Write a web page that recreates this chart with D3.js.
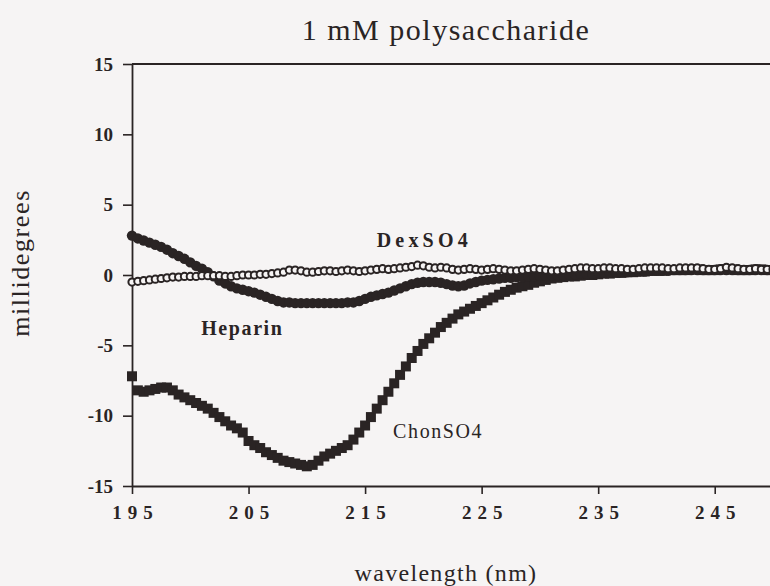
<!DOCTYPE html>
<html>
<head>
<meta charset="utf-8">
<script src="https://cdn.jsdelivr.net/npm/d3@7"></script>
<style>
  html, body { margin: 0; padding: 0; background: #f6f4f4; }
  svg { display: block; }
</style>
</head>
<body>
<svg id="chart" width="770" height="586"></svg>
<script>
// CD spectra sampled every 0.5 nm from 195 to 250 nm (millidegrees)
const wavelengthStart = 195;
const wavelengthStep = 0.5;

const chonSO4 = [
  -7.2, -8.2, -8.3, -8.2, -8.1, -8.0, -8.0, -8.2, -8.5, -8.7,
  -8.9, -9.1, -9.3, -9.5, -9.8, -10.1, -10.4, -10.7, -10.9, -11.2,
  -11.8, -12.1, -12.3, -12.6, -12.8, -13.0, -13.2, -13.3, -13.4, -13.5,
  -13.6, -13.5, -13.2, -12.9, -12.7, -12.5, -12.3, -12.1, -11.7, -11.2,
  -10.7, -10.1, -9.5, -8.9, -8.3, -7.7, -7.1, -6.5, -5.9, -5.4,
  -4.9, -4.5, -4.1, -3.7, -3.4, -3.1, -2.8, -2.6, -2.4, -2.2,
  -2.0, -1.8, -1.6, -1.4, -1.2, -1.05, -0.9, -0.8, -0.7, -0.55,
  -0.45, -0.35, -0.25, -0.2, -0.15, -0.1, -0.1, -0.05, 0.0, 0.0,
  0.05, 0.1, 0.1, 0.15, 0.15, 0.2, 0.2, 0.25, 0.25, 0.3,
  0.3, 0.3, 0.35, 0.35, 0.35, 0.35, 0.4, 0.4, 0.35, 0.35,
  0.35, 0.4, 0.4, 0.4, 0.35, 0.35, 0.35, 0.4, 0.4, 0.35,
  0.35
];

const heparin = [
  2.8, 2.6, 2.45, 2.3, 2.15, 2.0, 1.8, 1.55, 1.35, 1.15,
  0.9, 0.65, 0.45, 0.2, -0.1, -0.4, -0.6, -0.8, -0.95, -1.05,
  -1.15, -1.25, -1.4, -1.55, -1.7, -1.85, -1.95, -1.95, -2.0, -2.0,
  -2.0, -2.0, -2.0, -2.0, -2.0, -2.0, -2.0, -1.95, -1.95, -1.85,
  -1.7, -1.55, -1.45, -1.35, -1.25, -1.1, -0.95, -0.8, -0.65, -0.55,
  -0.5, -0.5, -0.5, -0.55, -0.65, -0.75, -0.8, -0.75, -0.6, -0.5,
  -0.4, -0.35, -0.3, -0.25, -0.2, -0.2, -0.15, -0.15, -0.1, -0.1,
  -0.05, -0.05, 0.0, 0.0, 0.0, 0.05, 0.05, 0.1, 0.1, 0.1,
  0.15, 0.15, 0.15, 0.2, 0.2, 0.2, 0.25, 0.25, 0.25, 0.3,
  0.3, 0.3, 0.3, 0.35, 0.35, 0.35, 0.35, 0.35, 0.35, 0.35,
  0.35, 0.35, 0.35, 0.35, 0.35, 0.35, 0.35, 0.35, 0.35, 0.35,
  0.35
];

const dexSO4 = [
  -0.5, -0.45, -0.4, -0.35, -0.3, -0.25, -0.2, -0.15, -0.15, -0.1,
  -0.1, -0.1, -0.05, -0.05, -0.05, -0.05, -0.1, -0.1, -0.05, 0.0,
  0.0, 0.0, 0.05, 0.05, 0.1, 0.15, 0.2, 0.35, 0.35, 0.3,
  0.2, 0.2, 0.25, 0.3, 0.3, 0.25, 0.3, 0.35, 0.3, 0.25,
  0.3, 0.35, 0.4, 0.45, 0.4, 0.45, 0.5, 0.55, 0.6, 0.7,
  0.65, 0.55, 0.5, 0.55, 0.5, 0.4, 0.35, 0.4, 0.45, 0.4,
  0.35, 0.4, 0.45, 0.4, 0.35, 0.3, 0.3, 0.35, 0.4, 0.45,
  0.4, 0.35, 0.3, 0.3, 0.35, 0.4, 0.45, 0.5, 0.5, 0.45,
  0.45, 0.5, 0.5, 0.45, 0.45, 0.4, 0.4, 0.45, 0.5, 0.5,
  0.5, 0.5, 0.45, 0.45, 0.5, 0.5, 0.5, 0.5, 0.45, 0.4,
  0.4, 0.45, 0.55, 0.5, 0.45, 0.4, 0.4, 0.45, 0.4, 0.4,
  0.4
];

const xMajorTicks = [195, 205, 215, 225, 235, 245];
const xMinorTicks = [200, 210, 220, 230, 240, 250];
const yMajorTicks = [-15, -10, -5, 0, 5, 10, 15];
const yMinorTicks = d3.range(-15, 16, 1).filter(v => v % 5 !== 0);

// series labels placed in data coordinates
const seriesLabels = [
  { text: "DexSO4",  w: 219.9, v: 2.0,   weight: "bold",   spacing: 4.2, size: 20 },
  { text: "Heparin", w: 204.4, v: -4.3,  weight: "bold",   spacing: 1.6, size: 20 },
  { text: "ChonSO4", w: 221.2, v: -11.6, weight: "normal", spacing: 1.6, size: 20 }
];

const ink = "#2a2424";
const paper = "#f6f4f4";
const serif = "'Liberation Serif', 'Times New Roman', serif";

const svg = d3.select("#chart");

const x = d3.scaleLinear().domain([195, 250]).range([132, 773]);
const y = d3.scaleLinear().domain([-15, 15]).range([486, 64]);

const toPoints = arr => arr.map((v, i) => ({ w: wavelengthStart + i * wavelengthStep, v }));
const plainNumber = d => String(d);

// title
svg.append("text")
  .attr("x", 446).attr("y", 40)
  .attr("text-anchor", "middle")
  .attr("font-family", serif)
  .attr("font-size", 30)
  .attr("letter-spacing", 1.5)
  .attr("fill", ink)
  .text("1 mM polysaccharide");

// frame top edge
svg.append("line")
  .attr("x1", x(195)).attr("x2", x(250))
  .attr("y1", y(15)).attr("y2", y(15))
  .attr("stroke", ink).attr("stroke-width", 1.8);

// bottom axis
const gx = svg.append("g").attr("transform", `translate(0,${y(-15)})`);
gx.call(d3.axisBottom(x).tickValues(xMinorTicks).tickSize(5).tickSizeOuter(0).tickFormat(""));
gx.call(d3.axisBottom(x).tickValues(xMajorTicks).tickSize(8).tickSizeOuter(0).tickPadding(12).tickFormat(plainNumber));

// left axis
const gy = svg.append("g").attr("transform", `translate(${x(195)},0)`);
gy.call(d3.axisLeft(y).tickValues(yMinorTicks).tickSize(5).tickSizeOuter(0).tickFormat(""));
gy.call(d3.axisLeft(y).tickValues(yMajorTicks).tickSize(9).tickSizeOuter(0).tickPadding(10).tickFormat(plainNumber));

svg.selectAll(".domain").attr("stroke", ink).attr("stroke-width", 1.8);
svg.selectAll(".tick line").attr("stroke", ink).attr("stroke-width", 1.6);
gx.selectAll(".tick text")
  .attr("font-family", serif).attr("font-weight", "bold").attr("font-size", 19)
  .attr("letter-spacing", 6).attr("dx", 3).attr("fill", ink);
gy.selectAll(".tick text")
  .attr("font-family", serif).attr("font-weight", "bold").attr("font-size", 19)
  .attr("fill", ink);

// axis titles
svg.append("text")
  .attr("x", 446).attr("y", 581)
  .attr("text-anchor", "middle")
  .attr("font-family", serif).attr("font-size", 24)
  .attr("letter-spacing", 1.3)
  .attr("fill", ink)
  .text("wavelength (nm)");

svg.append("text")
  .attr("transform", "translate(29,263) rotate(-90)")
  .attr("text-anchor", "middle")
  .attr("font-family", serif).attr("font-size", 26)
  .attr("letter-spacing", 1.6)
  .attr("fill", ink)
  .text("millidegrees");

// ChonSO4: filled squares
const sq = 10;
svg.append("g").selectAll("rect")
  .data(toPoints(chonSO4))
  .join("rect")
  .attr("x", d => x(d.w) - sq / 2)
  .attr("y", d => y(d.v) - sq / 2)
  .attr("width", sq).attr("height", sq)
  .attr("fill", ink);

// Heparin: filled circles
svg.append("g").selectAll("circle")
  .data(toPoints(heparin))
  .join("circle")
  .attr("cx", d => x(d.w))
  .attr("cy", d => y(d.v))
  .attr("r", 5.2)
  .attr("fill", ink);

// DexSO4: open circles
svg.append("g").selectAll("circle")
  .data(toPoints(dexSO4))
  .join("circle")
  .attr("cx", d => x(d.w))
  .attr("cy", d => y(d.v))
  .attr("r", 3.6)
  .attr("fill", paper)
  .attr("stroke", ink)
  .attr("stroke-width", 2);

// series labels
svg.append("g").selectAll("text")
  .data(seriesLabels)
  .join("text")
  .attr("x", d => x(d.w))
  .attr("y", d => y(d.v))
  .attr("dx", d => d.spacing / 2)
  .attr("text-anchor", "middle")
  .attr("font-family", serif)
  .attr("font-size", d => d.size)
  .attr("font-weight", d => d.weight)
  .attr("letter-spacing", d => d.spacing)
  .attr("fill", ink)
  .text(d => d.text);
</script>
</body>
</html>
